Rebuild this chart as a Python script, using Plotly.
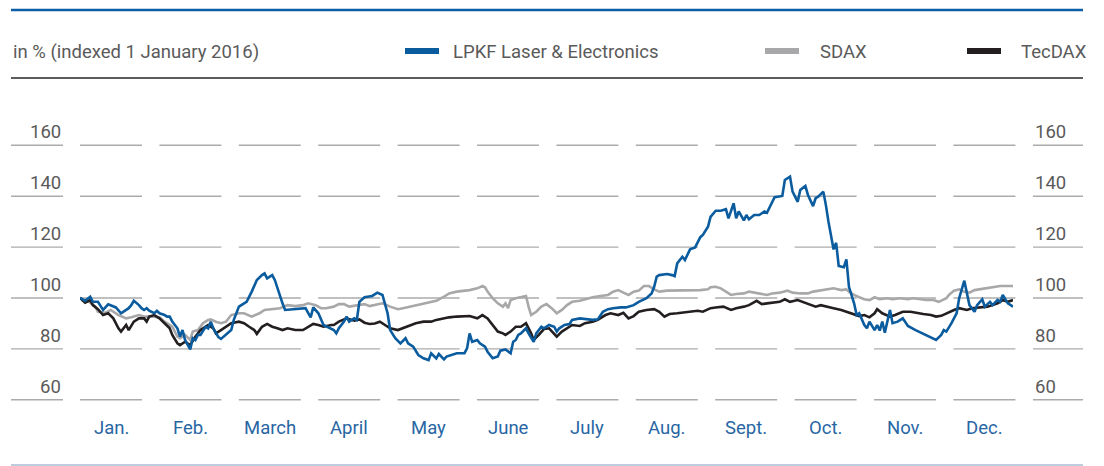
import pandas as pd
import plotly.graph_objects as go

W, H = 1104, 466

months = ["Jan.", "Feb.", "March", "April", "May", "June",
          "July", "Aug.", "Sept.", "Oct.", "Nov.", "Dec."]
grid_levels = [60, 80, 100, 120, 140, 160]

# day offsets from 1 January 2016, values indexed to 100
lpkf_days = [0, 2, 4, 5, 7, 8, 9, 11, 12, 14, 16, 18, 19, 20, 21, 23, 24, 25, 26, 27,
             29, 30, 31, 33, 34, 35, 36, 38, 39, 40, 41, 43, 44, 45, 46, 47, 49, 50, 51, 52,
             54, 55, 57, 59, 60, 62, 64, 65, 67, 69, 71, 72, 73, 75, 76, 77, 79, 80, 83, 85,
             88, 89, 90, 91, 93, 95, 98, 99, 100, 101, 103, 104, 105, 107, 108, 109, 111, 112, 114, 116,
             118, 120, 121, 123, 125, 127, 128, 130, 132, 134, 136, 137, 139, 140, 142, 143, 145, 147, 150, 151,
             152, 153, 155, 156, 158, 159, 161, 163, 164, 166, 168, 169, 170, 171, 172, 174, 175, 177, 178, 180,
             181, 183, 185, 186, 187, 189, 191, 192, 195, 198, 200, 202, 204, 206, 208, 211, 213, 216, 218, 221,
             223, 224, 225, 226, 229, 231, 232, 233, 235, 236, 238, 240, 242, 243, 245, 246, 248, 250, 252, 253,
             254, 255, 256, 257, 259, 260, 261, 263, 265, 267, 268, 270, 271, 274, 275, 277, 278, 280, 281, 283,
             284, 286, 287, 288, 290, 291, 292, 294, 295, 296, 298, 299, 300, 302, 303, 304, 306, 307, 308, 310,
             311, 312, 313, 314, 316, 317, 319, 321, 323, 326, 328, 330, 332, 334, 336, 337, 338, 340, 342, 343,
             345, 346, 347, 349, 350, 352, 353, 355, 356, 358, 359, 360, 362, 364]
lpkf_values = [100.0, 98.9, 100.5, 98.5, 98.5, 96.6, 95.3, 97.5, 97.2, 96.3, 94.0, 95.3, 96.0, 97.2, 98.9, 97.2, 96.0, 95.3, 96.0, 95.0,
               94.0, 95.0, 94.0, 93.3, 92.7, 92.7, 90.7, 88.1, 84.8, 87.4, 83.5, 79.8, 84.2, 83.5, 85.5, 85.5, 88.7, 88.1, 90.7, 88.1,
               84.6, 83.9, 85.5, 87.4, 91.4, 96.6, 97.9, 98.5, 102.5, 107.1, 109.0, 109.7, 107.7, 109.0, 107.1, 103.8, 97.9, 95.3, 95.6, 95.6,
               96.0, 94.2, 92.4, 96.3, 94.0, 89.4, 88.1, 87.4, 86.1, 88.1, 90.7, 92.7, 90.7, 92.0, 91.4, 98.5, 100.3, 100.5, 100.8, 102.1,
               101.2, 94.0, 87.4, 84.2, 82.2, 84.2, 82.2, 80.9, 77.6, 76.3, 75.6, 78.3, 76.3, 78.0, 75.9, 77.0, 77.6, 78.3, 78.3, 80.2,
               86.1, 82.8, 83.5, 82.2, 80.9, 78.9, 76.3, 77.0, 79.3, 79.8, 78.3, 82.8, 83.5, 85.5, 86.1, 88.1, 86.1, 82.8, 86.1, 88.7,
               88.1, 89.4, 88.7, 86.8, 88.1, 89.4, 89.8, 91.4, 92.0, 91.6, 91.4, 91.6, 94.6, 95.6, 96.0, 96.3, 96.3, 97.2, 98.5, 99.9,
               101.8, 104.4, 108.4, 109.0, 109.4, 109.0, 108.6, 113.6, 116.2, 114.9, 119.1, 119.9, 123.9, 124.8, 128.0, 131.9, 134.3, 134.3, 134.9, 131.3,
               134.6, 137.2, 131.3, 134.0, 130.5, 132.6, 130.9, 132.6, 132.6, 134.0, 133.5, 137.2, 139.6, 140.1, 146.4, 147.7, 141.8, 137.8, 142.4, 144.0,
               140.5, 136.1, 139.2, 139.8, 141.8, 136.5, 130.0, 119.1, 121.7, 112.6, 112.1, 115.2, 104.4, 97.9, 93.3, 94.0, 89.4, 88.1, 90.7, 87.4,
               89.4, 87.2, 90.7, 86.4, 95.3, 90.1, 90.7, 92.0, 89.0, 87.4, 86.4, 85.5, 84.6, 83.5, 85.5, 87.4, 86.8, 90.1, 94.0, 99.9,
               106.8, 102.5, 97.2, 94.6, 97.2, 99.5, 96.6, 98.5, 97.2, 99.2, 98.5, 101.2, 97.9, 96.6]

sdax_days = [0, 3, 6, 7, 10, 12, 15, 18, 20, 23, 25, 28, 31, 33, 36, 38, 39, 41, 43, 44,
             46, 48, 50, 51, 53, 55, 57, 59, 62, 64, 67, 70, 72, 75, 78, 81, 84, 87, 89, 92,
             94, 96, 99, 101, 103, 105, 108, 111, 113, 116, 118, 121, 124, 126, 129, 131, 134, 137, 139, 142,
             144, 147, 150, 152, 155, 157, 158, 159, 161, 163, 165, 166, 167, 168, 170, 172, 174, 175, 176, 178,
             180, 182, 184, 186, 188, 190, 192, 195, 198, 200, 203, 206, 208, 210, 212, 214, 216, 218, 220, 222,
             224, 226, 229, 231, 234, 237, 239, 242, 245, 246, 248, 250, 252, 254, 256, 259, 261, 263, 265, 268,
             270, 273, 276, 278, 281, 284, 286, 289, 291, 294, 297, 299, 300, 302, 304, 306, 308, 310, 312, 315,
             317, 320, 323, 325, 328, 330, 333, 335, 338, 339, 341, 343, 345, 347, 349, 351, 354, 356, 359, 361,
             364]
sdax_values = [100.0, 98.9, 96.6, 94.6, 94.2, 95.3, 93.3, 92.0, 92.4, 93.3, 92.7, 92.7, 92.4, 90.7, 88.7, 84.8, 84.2, 85.5, 83.5, 86.8,
               87.4, 90.1, 91.4, 91.6, 90.7, 90.1, 90.7, 93.3, 94.0, 94.0, 92.7, 94.0, 95.3, 95.6, 96.0, 97.2, 96.8, 97.2, 97.9, 97.2,
               96.0, 96.0, 96.6, 97.6, 97.6, 96.6, 97.2, 97.6, 96.8, 97.6, 97.9, 96.6, 95.6, 96.0, 96.6, 97.2, 97.9, 98.5, 98.9, 100.5,
               101.8, 102.5, 102.9, 103.1, 103.8, 104.7, 104.2, 102.5, 99.9, 97.9, 96.6, 97.9, 96.0, 99.2, 99.9, 100.5, 100.8, 96.6, 93.3, 94.6,
               96.6, 97.6, 96.0, 94.0, 95.3, 97.2, 98.5, 98.9, 99.9, 100.3, 100.8, 101.2, 102.5, 103.1, 102.1, 101.2, 102.5, 102.9, 104.7, 104.7,
               103.4, 102.5, 102.9, 102.9, 103.1, 102.9, 102.9, 103.1, 103.4, 104.2, 104.4, 103.8, 102.5, 101.2, 101.6, 101.8, 102.5, 102.1, 101.6, 101.2,
               101.8, 102.1, 102.9, 102.1, 101.8, 101.8, 102.5, 102.9, 103.4, 103.8, 103.1, 103.4, 102.5, 101.2, 100.3, 99.5, 99.2, 100.3, 99.5, 99.9,
               99.5, 99.9, 99.5, 99.9, 99.5, 99.2, 99.2, 98.5, 99.9, 101.2, 102.9, 103.4, 102.5, 102.1, 103.1, 103.4, 103.8, 104.2, 104.7, 104.7,
               104.7]

tecdax_days = [0, 2, 4, 5, 7, 9, 11, 13, 15, 16, 18, 19, 21, 23, 25, 26, 27, 29, 31, 33,
               35, 36, 38, 39, 41, 43, 45, 47, 49, 50, 52, 53, 55, 57, 59, 62, 64, 66, 68, 69,
               71, 73, 75, 77, 79, 81, 84, 87, 89, 91, 93, 95, 98, 99, 101, 104, 107, 109, 111, 113,
               115, 117, 119, 121, 124, 126, 129, 131, 134, 137, 139, 142, 144, 147, 150, 152, 155, 157, 159, 161,
               163, 165, 166, 168, 170, 172, 174, 176, 177, 179, 181, 183, 186, 188, 191, 192, 195, 197, 200, 202,
               205, 207, 210, 212, 214, 216, 218, 221, 224, 226, 228, 230, 233, 235, 238, 241, 243, 246, 248, 251,
               254, 256, 259, 261, 264, 266, 268, 271, 273, 275, 277, 280, 282, 285, 287, 289, 291, 294, 297, 299,
               302, 304, 306, 308, 310, 311, 313, 316, 318, 320, 321, 324, 326, 329, 332, 334, 336, 338, 341, 343,
               346, 348, 351, 354, 356, 358, 360, 362, 364]
tecdax_values = [100.0, 98.2, 99.2, 97.2, 95.6, 93.3, 94.0, 92.0, 88.1, 86.8, 89.4, 87.4, 90.7, 92.0, 92.0, 90.7, 92.7, 93.3, 92.0, 90.1,
                 88.1, 85.5, 82.2, 81.5, 82.8, 81.5, 84.8, 87.4, 88.7, 89.4, 88.1, 86.1, 87.4, 88.7, 90.1, 90.7, 90.1, 88.7, 87.4, 85.9,
                 88.7, 89.8, 88.7, 88.1, 87.4, 88.1, 87.4, 87.4, 88.7, 89.8, 89.4, 88.7, 89.4, 89.4, 90.7, 92.0, 91.1, 91.6, 90.3, 89.8,
                 90.0, 90.7, 89.4, 88.1, 87.4, 88.1, 89.4, 90.1, 90.7, 90.7, 91.4, 92.0, 92.4, 92.7, 92.7, 92.9, 92.0, 93.3, 92.0, 89.4,
                 86.8, 86.1, 85.5, 86.8, 88.7, 88.7, 90.1, 86.1, 83.5, 85.5, 87.8, 88.1, 84.8, 86.8, 88.9, 89.4, 89.0, 90.1, 90.7, 91.4,
                 93.3, 94.0, 93.3, 94.2, 92.0, 92.9, 94.6, 95.3, 95.6, 94.6, 92.7, 93.7, 94.0, 94.2, 94.6, 95.0, 94.6, 96.0, 96.3, 96.6,
                 95.3, 96.0, 96.6, 97.2, 98.9, 97.6, 97.9, 98.2, 98.5, 99.5, 98.5, 99.2, 98.5, 97.2, 96.6, 97.2, 96.6, 96.0, 95.3, 94.6,
                 93.7, 92.9, 93.3, 92.4, 94.0, 95.6, 94.0, 92.7, 93.3, 94.0, 94.6, 94.6, 94.2, 93.7, 93.3, 92.7, 93.0, 94.0, 95.3, 96.0,
                 95.3, 96.0, 96.3, 96.6, 97.2, 97.9, 99.2, 98.5, 99.2]

start = pd.Timestamp("2016-01-01")
def to_dates(days):
    return start + pd.to_timedelta(days, unit="D")

BLUE = "#0b5c9e"
GREY = "#a8a8aa"
BLACK = "#231f20"
TEXT = "#5a5a5a"
MONTH_BLUE = "#2866a3"
FONT = "Roboto"
FS = 18.5

fig = go.Figure()
fig.add_trace(go.Scatter(x=to_dates(sdax_days), y=sdax_values, mode="lines", name="SDAX",
                         line=dict(color=GREY, width=2.6)))
fig.add_trace(go.Scatter(x=to_dates(tecdax_days), y=tecdax_values, mode="lines", name="TecDAX",
                         line=dict(color=BLACK, width=2.6)))
fig.add_trace(go.Scatter(x=to_dates(lpkf_days), y=lpkf_values, mode="lines", name="LPKF Laser & Electronics",
                         line=dict(color=BLUE, width=2.6)))

px = lambda p: p / W
py = lambda p: 1 - p / H

shapes = []
# segmented grid lines: label block left/right, one block per month
seg_step, seg_w = 79.4, 62
segments = [(11, 63)] + [(80 + seg_step * k, 80 + seg_step * k + seg_w) for k in range(12)] + [(1033, 1083)]
for lvl in grid_levels:
    for a, b in segments:
        shapes.append(dict(type="line", xref="paper", yref="y", x0=px(a), x1=px(b), y0=lvl, y1=lvl,
                           line=dict(color="#ababab", width=1.4), layer="below"))

# frame lines
shapes.append(dict(type="line", xref="paper", yref="paper", x0=px(11), x1=px(1083), y0=py(10), y1=py(10),
                   line=dict(color="#0d5ea6", width=2.6)))
shapes.append(dict(type="line", xref="paper", yref="paper", x0=px(11), x1=px(1083), y0=py(78), y1=py(78),
                   line=dict(color="#5c5c5c", width=2.2)))
shapes.append(dict(type="line", xref="paper", yref="paper", x0=px(11), x1=px(1083), y0=py(465), y1=py(465),
                   line=dict(color="#7f9cbc", width=1.2)))

# legend swatches
legend = [("LPKF Laser & Electronics", BLUE, 405, 451),
          ("SDAX", GREY, 765, 818),
          ("TecDAX", BLACK, 967, 1019)]
annotations = []
for label, col, x0, tx in legend:
    shapes.append(dict(type="rect", xref="paper", yref="paper", x0=px(x0), x1=px(x0 + 34),
                       y0=py(54), y1=py(48), fillcolor=col, line=dict(width=0)))
    annotations.append(dict(text=label, xref="paper", yref="paper", x=px(tx), y=py(52),
                            xanchor="left", yanchor="middle", showarrow=False,
                            font=dict(family=FONT, size=FS, color=TEXT)))

annotations.append(dict(text="in % (indexed 1 January 2016)", xref="paper", yref="paper",
                        x=px(11), y=py(52), xanchor="left", yanchor="middle", showarrow=False,
                        font=dict(family=FONT, size=FS, color=TEXT)))

for lvl in grid_levels:
    annotations.append(dict(text=str(lvl), xref="paper", yref="y", x=px(63), y=lvl,
                            xanchor="right", yanchor="bottom", yshift=0, showarrow=False,
                            font=dict(family=FONT, size=FS, color=TEXT)))
    annotations.append(dict(text=str(lvl), xref="paper", yref="y", x=px(1033), y=lvl,
                            xanchor="left", yanchor="bottom", yshift=0, showarrow=False,
                            font=dict(family=FONT, size=FS, color=TEXT)))

for k, m in enumerate(months):
    annotations.append(dict(text=m, xref="paper", yref="paper", x=px(80 + seg_step * k + seg_w / 2), y=py(428),
                            xanchor="center", yanchor="middle", showarrow=False,
                            font=dict(family=FONT, size=FS, color=MONTH_BLUE)))

# value v sits at pixel 298 - (v - 100) * 2.545
fig.update_layout(
    width=W, height=H, margin=dict(l=0, r=0, t=0, b=0),
    paper_bgcolor="white", plot_bgcolor="rgba(0,0,0,0)",
    showlegend=False,
    xaxis=dict(domain=[px(80), px(1013)], range=[start, start + pd.Timedelta(days=364)],
               visible=False, showgrid=False, zeroline=False),
    yaxis=dict(domain=[py(420), py(120)], range=[100 - 122 / 2.545, 100 + 178 / 2.545],
               visible=False, showgrid=False, zeroline=False),
    shapes=shapes, annotations=annotations,
)

fig.write_html("out.html", config={"displayModeBar": False},
               post_script="document.body.style.margin='0';")
